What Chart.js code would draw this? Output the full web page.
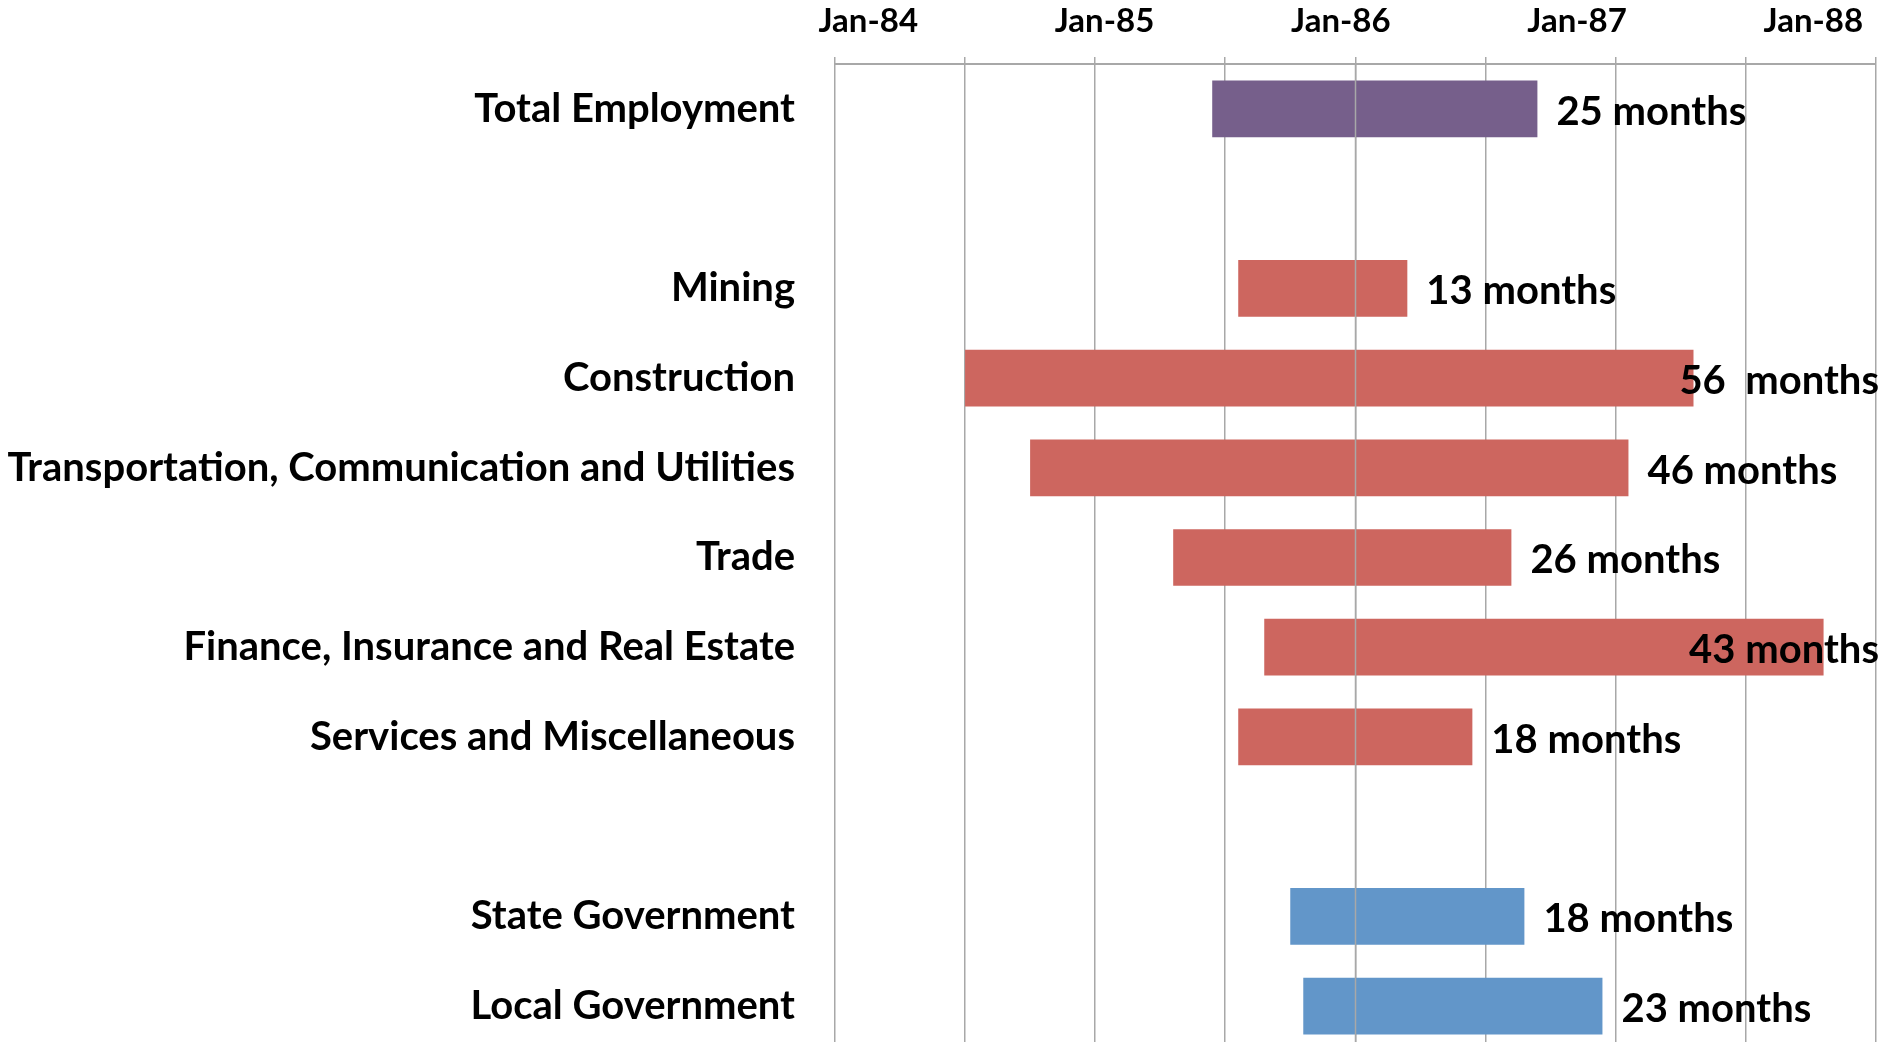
<!DOCTYPE html>
<html>
<head>
<meta charset="utf-8">
<script src="https://cdn.jsdelivr.net/npm/chart.js@4.4.0/dist/chart.umd.min.js"></script>
<style>
html, body { margin: 0; padding: 0; background: #fff; overflow: hidden; }
#wrap { position: relative; width: 1893px; height: 1051px; }
</style>
</head>
<body>
<div id="wrap"><canvas id="ganttChart"></canvas></div>
<script>
// rows, top to bottom ('' = spacer row)
var categories = ['Total Employment', '', 'Mining', 'Construction',
    'Transportation, Communication and Utilities', 'Trade',
    'Finance, Insurance and Real Estate', 'Services and Miscellaneous', '',
    'State Government', 'Local Government'];
// start of each bar, in months on the gridline scale
var startMonth = [29, null, 31, 10, 15, 26, 33, 31, null, 35, 36];
var durationMonths = [25, null, 13, 56, 46, 26, 43, 18, null, 18, 23];
var durationLabels = ['25 months', '', '13 months', '56  months', '46 months',
    '26 months', '43 months', '18 months', '', '18 months', '23 months'];
var sectorGroup = ['total', '', 'industry', 'industry', 'industry', 'industry',
    'industry', 'industry', '', 'government', 'government'];
// top date labels and where they sit on their own axis
var dateTickLabels = ['Jan-84', 'Jan-85', 'Jan-86', 'Jan-87', 'Jan-88'];
var dateTickMonths = [0, 12, 24, 36, 48];

var groupColors = { total: '#765F8B', industry: '#CD665F', government: '#6296C9' };
var gridColor = '#A8A8A8';
var axisCross = 40;

var barData = startMonth.map(function (s, i) {
    return s === null ? null : [s, s + durationMonths[i]];
});
var barColors = sectorGroup.map(function (g) { return groupColors[g] || 'rgba(0,0,0,0)'; });

var labelFont = 'bold 40px Lato';

var overlayPlugin = {
    id: 'overlay',
    afterDatasetsDraw: function (chart) {
        var c = chart.ctx;
        var area = chart.chartArea;
        var xs = chart.scales.x;
        // category axis line crosses over the bars
        var ax = Math.round(xs.getPixelForValue(axisCross)) + 0.5;
        c.save();
        c.strokeStyle = gridColor;
        c.lineWidth = 1.5;
        c.beginPath();
        c.moveTo(ax, area.top);
        c.lineTo(ax, area.bottom);
        c.stroke();

        c.font = labelFont;
        c.fillStyle = '#000';
        c.textBaseline = 'middle';
        c.textAlign = 'left';
        var meta = chart.getDatasetMeta(0);
        meta.data.forEach(function (bar, i) {
            if (barData[i] === null) return;
            var w = c.measureText(durationLabels[i]).width;
            var x = bar.x + 19;
            if (x + w > chart.width - 14) x = chart.width - 14 - w;
            c.fillText(durationLabels[i], x, bar.y + 3);
        });
        c.restore();
    }
};

var ctx = document.getElementById('ganttChart');
var ganttChart = new Chart(ctx, {
    type: 'bar',
    data: {
        labels: categories,
        datasets: [{
            data: barData,
            backgroundColor: barColors,
            borderWidth: 0,
            barPercentage: 0.632,
            categoryPercentage: 1
        }]
    },
    options: {
        indexAxis: 'y',
        responsive: true,
        maintainAspectRatio: false,
        animation: false,
        layout: { padding: { top: 0, right: 17.4, left: 0, bottom: 0 } },
        plugins: {
            legend: { display: false },
            tooltip: { enabled: false }
        },
        scales: {
            x: {
                type: 'linear',
                position: 'top',
                weight: 0,
                min: 0,
                max: 80,
                grid: { color: gridColor, lineWidth: 1.5, tickLength: 7 },
                border: { color: gridColor, width: 2 },
                ticks: { display: false, stepSize: 10 },
                afterFit: function (scale) { scale.height = 7; }
            },
            x2: {
                type: 'linear',
                position: 'top',
                weight: 1,
                min: -1.69,
                max: 51.16,
                grid: { display: false },
                border: { display: false },
                afterBuildTicks: function (scale) {
                    scale.ticks = dateTickMonths.map(function (v) { return { value: v }; });
                },
                ticks: {
                    autoSkip: false,
                    maxRotation: 0,
                    padding: 7.5,
                    color: '#000',
                    font: { family: 'Lato', size: 33, weight: 'bold' },
                    callback: function (value, index) { return dateTickLabels[index]; }
                },
                afterFit: function (scale) { scale.height = 57; }
            },
            y: {
                type: 'category',
                grid: { display: false, drawTicks: false },
                border: { display: false },
                ticks: {
                    autoSkip: false,
                    padding: 40,
                    color: '#000',
                    font: { family: 'Lato', size: 40, weight: 'bold' }
                },
                afterFit: function (scale) {
                    scale.width = 835;
                    scale.paddingTop = 0;
                    scale.paddingBottom = 0;
                }
            }
        }
    },
    plugins: [overlayPlugin]
});
</script>
</body>
</html>
